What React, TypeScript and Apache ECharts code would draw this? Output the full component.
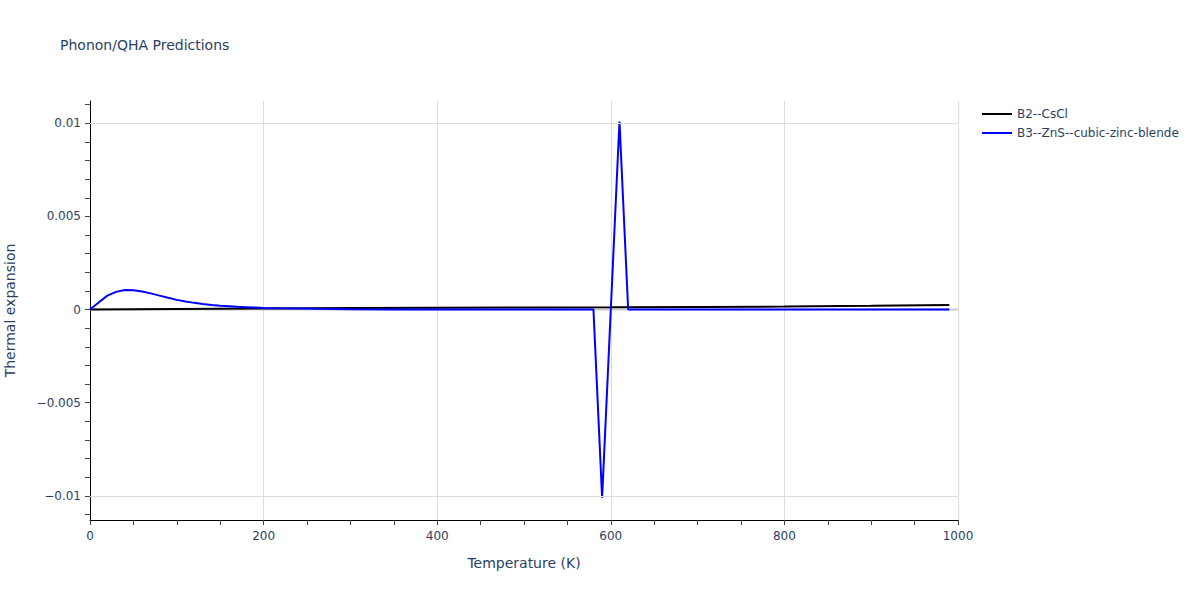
import React, { useEffect, useRef } from "react";
import * as echarts from "echarts";

const titleText = "Phonon/QHA Predictions";
const seriesNames = ["B2--CsCl", "B3--ZnS--cubic-zinc-blende"];

const csclT = [0, 100, 200, 300, 400, 500, 600, 700, 800, 900, 990];
const csclV = [0, 0.00003, 0.00006, 0.00008, 0.0001, 0.00011, 0.00012, 0.00014, 0.00016, 0.0002, 0.00024];

const znsT = [
  0, 10, 20, 30, 40, 50, 60, 70, 80, 90, 100, 110, 120, 130, 140, 150, 160, 170, 180, 190, 200,
  220, 240, 260, 280, 300, 350, 400, 450, 500, 550, 570, 580, 590, 600, 610, 620, 700, 800, 900, 990,
];
const znsV = [
  0, 0.00038, 0.00075, 0.00095, 0.00105, 0.00104, 0.00097, 0.00087, 0.00075, 0.00063, 0.00052,
  0.00043, 0.00036, 0.0003, 0.00025, 0.00021, 0.00018, 0.00015, 0.00013, 0.00011, 0.00009,
  0.00007, 0.00006, 0.00004, 0.00003, 0.00002, 0.00001, 0.00001, 0.00001, 0.00001, 0.00001, 0.00001,
  0, -0.0101, 0, 0.0101, 0, 0, 0, 0, 0,
];

const zeroLineT = [0, 1000];
const zeroLineV = [0, 0];

const yMajorTicks = [-0.01, -0.005, 0, 0.005, 0.01];
const yMinorTicks = [
  -0.011, -0.01, -0.009, -0.008, -0.007, -0.006, -0.005, -0.004, -0.003, -0.002, -0.001, 0,
  0.001, 0.002, 0.003, 0.004, 0.005, 0.006, 0.007, 0.008, 0.009, 0.01, 0.011,
];
const yGridValues = [-0.01, -0.005, 0.005, 0.01];

const FONT = '"DejaVu Sans", Verdana, sans-serif';
const TXT = "#2a3f5f";

export default function App() {
  const ref = useRef<HTMLDivElement>(null);
  useEffect(() => {
    if (!ref.current) return;
    const chart = echarts.init(ref.current, null, { renderer: "svg" });
    const pair = (ts: number[], vs: number[]) => ts.map((t, i) => [t, vs[i]]);
    chart.setOption({
      animation: false,
      backgroundColor: "#ffffff",
      textStyle: { fontFamily: FONT },
      title: {
        text: titleText,
        left: 60,
        top: 38,
        padding: 0,
        textStyle: { fontFamily: FONT, fontSize: 14, fontWeight: "normal", color: TXT },
      },
      legend: {
        orient: "vertical",
        left: 982,
        top: 108,
        padding: 0,
        icon: "rect",
        itemWidth: 30,
        itemHeight: 2,
        itemGap: 7,
        data: seriesNames,
        textStyle: { fontFamily: FONT, fontSize: 12, color: TXT, padding: [0, 0, 0, 0] },
      },
      grid: { left: 90, right: 242, top: 101, bottom: 80, containLabel: false, outerBoundsMode: "none" },
      xAxis: {
        type: "value",
        min: 0,
        max: 1000,
        interval: 200,
        name: "Temperature (K)",
        nameLocation: "middle",
        nameGap: 36,
        nameTextStyle: { fontFamily: FONT, fontSize: 14, color: TXT },
        axisLine: { show: true, onZero: false, lineStyle: { color: "#000000", width: 1 } },
        axisTick: { show: true, inside: false, length: 5, lineStyle: { color: "#444444" } },
        minorTick: { show: true, splitNumber: 4, length: 5, lineStyle: { color: "#444444" } },
        axisLabel: { fontFamily: FONT, fontSize: 12, color: TXT, margin: 10, formatter: (v: number) => String(v) },
        splitLine: { show: true, lineStyle: { color: "#dddddd", width: 1 } },
      },
      yAxis: {
        type: "value",
        min: -0.0113,
        max: 0.0112,
        name: "Thermal expansion",
        nameLocation: "middle",
        nameGap: 73,
        nameTextStyle: { fontFamily: FONT, fontSize: 14, color: TXT },
        axisLine: { show: true, onZero: false, lineStyle: { color: "#000000", width: 1 } },
        axisTick: {
          show: true,
          inside: false,
          length: 5,
          customValues: yMinorTicks,
          lineStyle: { color: "#444444" },
        },
        axisLabel: {
          fontFamily: FONT,
          fontSize: 12,
          color: TXT,
          margin: 9,
          customValues: yMajorTicks,
          formatter: (v: number) => String(v).replace("-", "\u2212"),
        },
        splitLine: { show: false },
      },
      series: [
        {
          type: "line",
          data: pair(zeroLineT, zeroLineV),
          silent: true,
          symbol: "none",
          showSymbol: false,
          z: 1,
          lineStyle: { color: "#cccccc", width: 2 },
          markLine: {
            silent: true,
            symbol: "none",
            label: { show: false },
            animation: false,
            data: yGridValues.map((v) => ({ yAxis: v, lineStyle: { color: "#dddddd", width: 1, type: "solid" } })),
          },
        },
        {
          name: seriesNames[0],
          type: "line",
          data: pair(csclT, csclV),
          showSymbol: false,
          symbol: "none",
          z: 3,
          lineStyle: { color: "#000000", width: 2 },
          itemStyle: { color: "#000000" },
        },
        {
          name: seriesNames[1],
          type: "line",
          data: pair(znsT, znsV),
          showSymbol: false,
          symbol: "none",
          z: 4,
          lineStyle: { color: "#0000ff", width: 2 },
          itemStyle: { color: "#0000ff" },
        },
      ],
    });
    return () => chart.dispose();
  }, []);
  return <div ref={ref} style={{ width: 1200, height: 600, position: "absolute", left: 0, top: 0 }} />;
}
